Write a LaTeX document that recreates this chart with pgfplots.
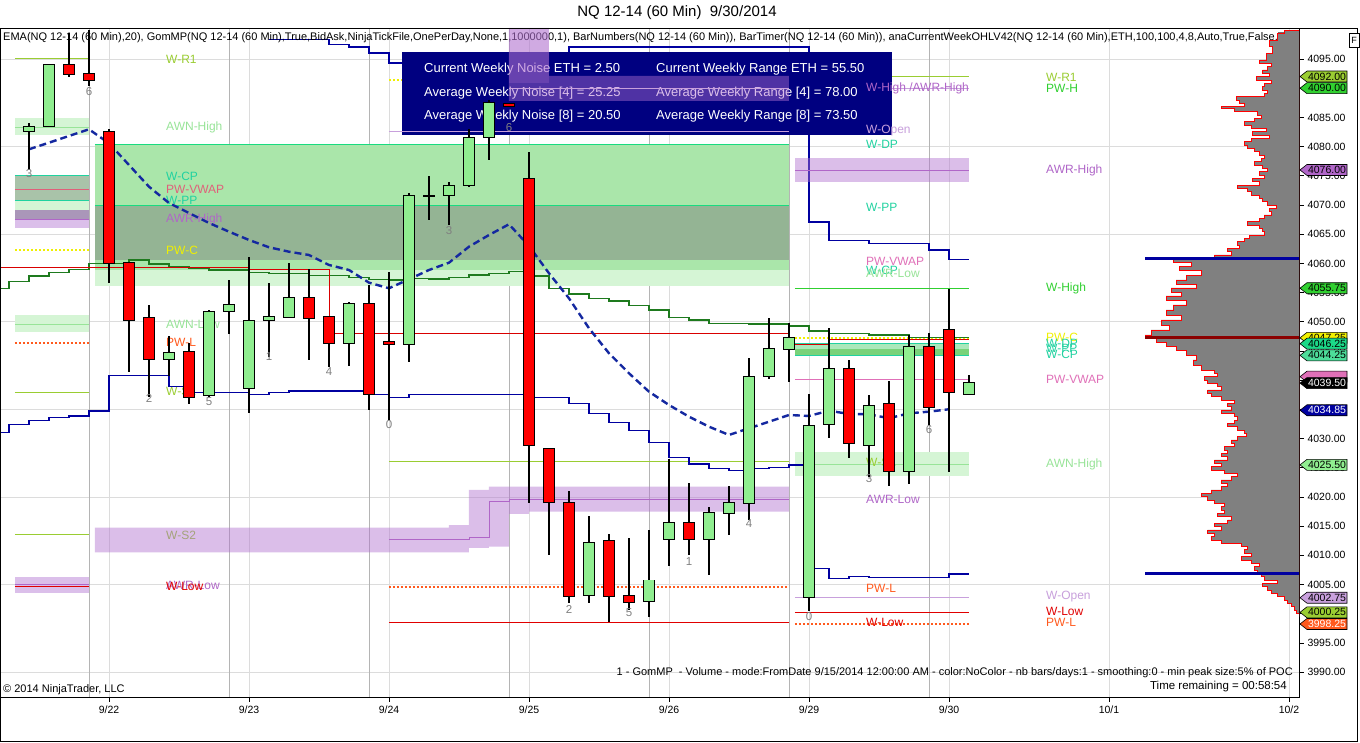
\documentclass[border=0pt]{standalone}
\usepackage{pgfplots}
\pgfplotsset{compat=1.18}
\usepackage{pgfplotstable}
\usepackage{fontspec}
\setmainfont{Liberation Sans}

\definecolor{cgreen}{HTML}{90EE90}
\definecolor{cred}{HTML}{FF0000}
\definecolor{ema}{HTML}{1428A0}
\definecolor{navyl}{HTML}{0000A0}
\definecolor{vwapg}{HTML}{1E7A1E}
\definecolor{ygreen}{HTML}{9ACD32}
\definecolor{lgreen}{HTML}{98E498}
\definecolor{tealg}{HTML}{20D2A0}
\definecolor{pinkr}{HTML}{E0607A}
\definecolor{pinkv}{HTML}{E070B8}
\definecolor{purp}{HTML}{B066C8}
\definecolor{yel}{HTML}{F0F000}
\definecolor{orng}{HTML}{FF5A1E}
\definecolor{wlow}{HTML}{E00000}
\definecolor{lpurp}{HTML}{C8A0DC}
\definecolor{limeg}{HTML}{30D030}
\definecolor{bandg}{HTML}{AAE6AA}
\definecolor{bandgray}{HTML}{94B494}
\definecolor{bandpale}{HTML}{D5F5D5}
\definecolor{gpurp}{HTML}{AA96B9}
\definecolor{purpov}{HTML}{B070D0}
\definecolor{gridd}{HTML}{B4B4B4}
\definecolor{gridl}{HTML}{DCDCDC}
\definecolor{boxnavy}{HTML}{000080}
\definecolor{profgray}{HTML}{808080}
\definecolor{poc}{HTML}{8B0000}
\definecolor{barnum}{HTML}{808080}

\pgfplotstableread{
k O H L C
0 4082.67 4084.10 4076.00 4083.40
1 4083.58 4094.10 4083.40 4093.97
7 4043.60 4047.60 4040.70 4044.60
9 4037.50 4052.00 4037.20 4051.70
10 4051.85 4057.20 4047.90 4052.80
11 4038.60 4061.05 4034.30 4050.20
12 4050.30 4056.60 4044.00 4050.80
13 4050.80 4060.10 4050.65 4054.00
16 4046.30 4053.40 4042.50 4053.00
19 4046.15 4072.00 4043.10 4071.50
20 4071.60 4075.00 4067.40 4071.60
21 4071.70 4074.00 4066.60 4073.25
22 4073.40 4083.00 4073.10 4081.40
23 4081.70 4088.00 4077.70 4087.40
28 4003.20 4016.75 4001.90 4012.20
31 4002.20 4014.35 3999.50 4005.70
32 4012.75 4026.50 4008.10 4015.50
34 4012.75 4018.30 4006.60 4017.20
35 4017.20 4021.90 4013.50 4018.90
36 4018.90 4043.75 4016.10 4040.60
37 4040.80 4050.60 4040.15 4045.30
38 4045.30 4049.80 4039.70 4047.30
39 4002.90 4037.60 4000.40 4032.20
40 4032.50 4048.90 4030.05 4041.90
42 4028.85 4037.50 4023.50 4035.60
44 4024.40 4047.70 4022.30 4045.60
47 4037.60 4040.90 4037.60 4039.50
}\upbars

\pgfplotstableread{
k O H L C
2 4094.00 4099.50 4091.90 4092.40
3 4092.40 4100.00 4090.30 4091.35
4 4082.50 4083.00 4056.60 4060.10
5 4060.10 4060.30 4041.45 4050.30
6 4050.60 4052.90 4037.20 4043.60
8 4044.80 4046.40 4035.90 4037.10
14 4054.00 4059.00 4043.50 4050.60
15 4050.80 4051.00 4042.30 4046.30
17 4053.00 4056.30 4034.90 4037.60
18 4046.50 4058.60 4033.20 4046.15
24 4087.30 4087.50 4086.80 4087.00
25 4074.40 4079.00 4018.90 4028.90
26 4028.30 4028.40 4010.10 4019.10
27 4018.90 4021.10 4001.80 4003.00
29 4012.50 4013.60 3998.65 4003.00
30 4003.00 4013.00 4000.65 4002.00
33 4015.50 4022.45 4010.10 4012.75
41 4042.00 4043.50 4026.60 4029.20
43 4035.90 4039.90 4021.90 4024.40
45 4045.60 4048.00 4032.30 4035.35
46 4048.60 4055.70 4024.30 4037.90
}\downbars

\newcommand\lblfont{\fontsize{12}{14}\selectfont}
\newcommand\band[5]{\addplot[draw=none,fill=#5,forget plot] coordinates {(#1,#3) (#2,#3) (#2,#4) (#1,#4)} -- cycle;}
\newcommand\lvl[4]{\addplot[#4,forget plot] coordinates {(#1,#3) (#2,#3)};}
\newcommand\lab[4]{\node[anchor=west,inner sep=0pt,text=#4,font=\lblfont] at (axis cs:#1,#2) {#3};}
\newcommand\bn[3]{\node[text=barnum,font=\fontsize{11.5}{13}\selectfont,inner sep=0pt] at (axis cs:#1,#2) {#3};}
\tikzset{dotl/.style={line width=2pt,dash pattern=on 2pt off 2pt}}
% candle: wick, then black body outline, then coloured body (vertical error bars, no marks)
\newcommand\candles[2]{%
\addplot[draw=none,mark=none,forget plot,error bars/.cd,y dir=both,y explicit,error mark=none,
  error bar style={draw=black,line width=1.1pt}]
  table[x=k,y expr={0.5*(\thisrow{H}+\thisrow{L})},y error expr={0.5*(\thisrow{H}-\thisrow{L})}] {#1};
\addplot[draw=none,mark=none,forget plot,error bars/.cd,y dir=both,y explicit,error mark=none,
  error bar style={draw=black,line width=12pt}]
  table[x=k,y expr={0.5*(\thisrow{O}+\thisrow{C})},y error expr={0.5*abs(\thisrow{O}-\thisrow{C})+0.17}] {#1};
\addplot[draw=none,mark=none,forget plot,error bars/.cd,y dir=both,y explicit,error mark=none,
  error bar style={draw=#2,line width=10pt}]
  table[x=k,y expr={0.5*(\thisrow{O}+\thisrow{C})},y error expr={0.5*abs(\thisrow{O}-\thisrow{C})}] {#1};
}
\newcommand\ptag[4]{%
  \pgfmathsetmacro\Y{(#1-3985.75)/114.56*669}
  \filldraw[fill=#2,draw=black,line width=0.6pt] (1300,\Y) -- (1307,\Y+5.5) -- (1347,\Y+5.5) -- (1347,\Y-5.5) -- (1307,\Y-5.5) -- cycle;
  \node[text=#3,font=\fontsize{10.5}{12}\selectfont,inner sep=0pt] at (1327,\Y) {#4};}

\begin{document}
\begin{tikzpicture}[x=1pt,y=1pt]
\useasboundingbox (0,-46) rectangle (1360,697);
\fill[white] (0,-46) rectangle (1360,697);
\node[font=\fontsize{15}{18}\selectfont] at (677,684) {NQ 12-14 (60 Min)\ \ 9/30/2014};

\begin{axis}[
  at={(0,0)}, anchor=south west, scale only axis,
  width=1299pt, height=669pt,
  xmin=-1.45, xmax=63.5, ymin=3985.75, ymax=4100.31,
  clip mode=individual,
  axis line style={black,line width=0.8pt},
  xtick={4,11,18,25,32,39,46,54,63},
  xticklabels={9/22,9/23,9/24,9/25,9/26,9/29,9/30,10/1,10/2},
  ytick={3990,3995,4000,4005,4010,4015,4020,4025,4030,4035,4040,4045,4050,4055,4060,4065,4070,4075,4080,4085,4090,4095},
  yticklabels={3990.00,3995.00,4000.00,4005.00,4010.00,4015.00,4020.00,4025.00,4030.00,4035.00,4040.00,4045.00,4050.00,4055.00,4060.00,4065.00,4070.00,4075.00,4080.00,4085.00,4090.00,4095.00},
  xtick pos=left, ytick pos=right, yticklabel pos=right,
  tick align=outside, major tick length=5pt,
  tick style={black,line width=0.6pt},
  tick label style={font=\fontsize{10.5}{12}\selectfont},
]
% grid
\pgfplotsinvokeforeach{3990,4005,4020,4035,4050,4065,4080,4095}{\addplot[gridl,line width=0.8pt,forget plot] coordinates {(-1.45,#1) (63.5,#1)};}
\pgfplotsinvokeforeach{4,11,18,25,32,39,46,54,63}{\addplot[gridl,line width=0.8pt,forget plot] coordinates {(#1,3985.75) (#1,4100.31)};}
\pgfplotsinvokeforeach{3,10,17,24,31,38,45}{\addplot[gridd,line width=0.8pt,forget plot] coordinates {(#1,3985.75) (#1,4100.31)};}

% left section levels (previous week)
\lvl{-0.7}{3}{4095.00}{ygreen,line width=1pt}
\band{-0.7}{3}{4084.95}{4082.00}{bandpale}
\lvl{-0.7}{3}{4083.36}{lgreen,line width=0.8pt}
\band{-0.7}{3}{4074.97}{4070.74}{bandgray!80}
\band{-0.7}{3}{4070.74}{4069.14}{bandpale}
\band{-0.7}{3}{4069.14}{4067.55}{gpurp}
\band{-0.7}{3}{4067.55}{4066.06}{purpov!45}
\lvl{-0.7}{3}{4074.97}{tealg,line width=1pt}
\lvl{-0.7}{3}{4070.74}{tealg,line width=1pt}
\lvl{-0.7}{3}{4072.74}{pinkr,line width=0.8pt}
\lvl{-0.7}{3}{4067.55}{purp,line width=0.8pt}
\lvl{-0.7}{3}{4062.29}{yel,dotl}
\band{-0.7}{3}{4051.16}{4048.20}{bandpale}
\lvl{-0.7}{3}{4049.57}{lgreen,line width=0.8pt}
\lvl{-0.7}{3}{4046.32}{orng,dotl}
\lvl{-0.7}{3}{4037.93}{ygreen,line width=1pt}
\lvl{-0.7}{3}{4013.61}{ygreen,line width=1pt}
\band{-0.7}{3}{4006.35}{4003.61}{purpov!45}
\lvl{-0.7}{3}{4004.95}{purp,line width=0.8pt}
\lvl{-0.7}{3}{4004.71}{wlow,line width=0.8pt}

% middle section bands
\band{3.3}{38}{4080.44}{4058.87}{bandg}
\band{3.3}{38}{4069.83}{4060.58}{bandgray}
\band{3.3}{38}{4058.87}{4056.13}{bandpale}
\lvl{3.3}{38}{4080.44}{tealg!80!green,line width=1pt}
\lvl{3.3}{38}{4069.83}{tealg!80!green,line width=1pt}
\lvl{18}{38}{4026.16}{ygreen,line width=1pt}
\lvl{18}{38}{4004.54}{orng,dotl}
\lvl{18}{38}{3998.54}{wlow,line width=1pt}
\lvl{18}{38}{4091.40}{yel,dotl}

% right section levels (current week)
\lvl{38.3}{47}{4092.00}{ygreen,line width=1pt}
\lvl{41.85}{47}{4090.00}{lpurp,line width=0.8pt}
\lvl{38.3}{47}{4055.75}{limeg,line width=1pt}
\lvl{38.3}{47}{4047.25}{yel,dotl}
\band{38.3}{47}{4046.25}{4045.34}{cgreen!80!teal!60}
\band{38.3}{47}{4045.34}{4044.14}{green!50!gray!70}
\lvl{38.3}{47}{4046.25}{tealg,line width=0.8pt}
\lvl{38.3}{47}{4044.25}{tealg,line width=0.8pt}
\lvl{38.3}{47}{4040.20}{pinkv,line width=0.8pt}
\band{38.3}{47}{4027.70}{4023.60}{bandpale}
\lvl{38.3}{47}{4025.50}{lgreen,line width=0.8pt}
\lvl{38.3}{47}{4002.75}{lpurp,line width=1pt}
\lvl{38.3}{47}{4000.25}{wlow,line width=1pt}
\lvl{38.3}{47}{3998.25}{orng,dotl}

% upper weekly projection line (mostly hidden by the info box)
\addplot[const plot,navyl,line width=1.2pt,forget plot] coordinates {
 (12,4098.30) (15,4097.50) (16,4097.05) (17,4096.03) (18,4094.30) (19,4093.10) (21,4092.40) (24,4091.10)
 (27,4097.05) (39,4067.09) (40,4063.96) (42,4063.37) (45,4062.30) (46,4060.70) (47,4060.70)};

% info box
\fill[boxnavy] (axis cs:18.65,4096.2) rectangle (axis cs:43.15,4081.99);
\begin{scope}[every node/.style={anchor=west,inner sep=0pt,text=white,font=\fontsize{13}{15}\selectfont}]
\node at (axis cs:19.75,4093.29) {Current Weekly Noise ETH = 2.50};
\node at (axis cs:31.35,4093.29) {Current Weekly Range ETH = 55.50};
\node at (axis cs:19.75,4089.18) {Average Weekly Noise [4] = 25.25};
\node at (axis cs:31.35,4089.18) {Average Weekly Range [4] = 78.00};
\node at (axis cs:19.75,4085.24) {Average Weekly Noise [8] = 20.50};
\node at (axis cs:31.35,4085.24) {Average Weekly Range [8] = 73.50};
\end{scope}

% labels for previous-week levels
\lab{6.85}{4095.00}{W-R1}{ygreen}
\lab{6.85}{4083.36}{AWN-High}{lgreen}
\lab{6.85}{4074.97}{W-CP}{tealg}
\lab{6.85}{4072.74}{PW-VWAP}{pinkr}
\lab{6.85}{4070.86}{W-PP}{tealg}
\lab{6.85}{4067.60}{AWR-High}{purp}
\lab{6.85}{4062.30}{PW-C}{yel}
\lab{6.85}{4049.60}{AWN-Low}{lgreen}
\lab{6.85}{4046.40}{PW-L}{orng}
\lab{6.85}{4038.00}{W-S1}{ygreen}
\lab{6.85}{4013.50}{W-S2}{ygreen}
\lab{6.85}{4004.80}{AWR-Low}{purp}
\lab{6.85}{4004.60}{W-Low}{wlow}
% labels for middle levels
\lab{41.85}{4090.00}{W-High /AWR-High}{purp}
\lab{41.85}{4082.67}{W-Open}{lpurp}
\lab{41.85}{4080.44}{W-DP}{tealg}
\lab{41.85}{4069.66}{W-PP}{tealg}
\lab{41.85}{4060.41}{PW-VWAP}{pinkv}
\lab{41.85}{4058.87}{W-CP}{tealg}
\lab{41.85}{4058.36}{AWR-Low}{lgreen}
\lab{41.85}{4026.00}{W-S1}{ygreen}
\lab{41.85}{4019.66}{AWR-Low}{purp}
\lab{41.85}{4004.40}{PW-L}{orng}
\lab{41.85}{3998.60}{W-Low}{wlow}
% labels for current-week levels
\lab{50.85}{4091.90}{W-R1}{ygreen}
\lab{50.85}{4090.00}{PW-H}{limeg}
\lab{50.85}{4076.00}{AWR-High}{purp}
\lab{50.85}{4055.80}{W-High}{limeg}
\lab{50.85}{4047.40}{PW-C}{yel}
\lab{50.85}{4046.30}{W-DP}{tealg}
\lab{50.85}{4045.50}{W-PP}{tealg}
\lab{50.85}{4044.50}{W-CP}{tealg}
\lab{50.85}{4040.20}{PW-VWAP}{pinkv}
\lab{50.85}{4025.65}{AWN-High}{lgreen}
\lab{50.85}{4003.00}{W-Open}{lpurp}
\lab{50.85}{4000.40}{W-Low}{wlow}
\lab{50.85}{3998.60}{PW-L}{orng}

% purple weekly-range bands (translucent)
\addplot[draw=none,fill=purpov,fill opacity=0.45,forget plot] coordinates {
 (3.3,4014.74) (21,4014.74) (21,4015.2) (22,4015.2) (22,4021.2) (23,4021.2) (23,4021.77) (38,4021.77)
 (38,4017.48) (25,4017.48) (25,4017.09) (24,4017.09) (24,4011.49) (23,4011.49) (23,4011.27) (22,4011.27)
 (22,4010.53) (3.3,4010.53)} -- cycle;
\addplot[const plot,purp,line width=0.8pt,forget plot] coordinates {(18,4012.76) (22,4013.10) (23,4019.20) (24,4019.60) (38,4019.60)};
\addplot[draw=none,fill=purpov,fill opacity=0.45,forget plot] coordinates {(38.3,4078.0) (47,4078.0) (47,4073.9) (38.3,4073.9)} -- cycle;
\lvl{38.3}{47}{4076.00}{purp,line width=0.8pt}

% step lines
\addplot[const plot,vwapg,line width=1.1pt,forget plot] coordinates {
 (-1.45,4055.74) (-1,4056.87) (0,4057.84) (1,4058.48) (2,4058.99) (3,4060.02) (5,4060.58) (6,4059.90)
 (7,4059.44) (8,4059.16) (9,4058.87) (11,4058.48) (12,4058.31) (14,4057.96) (16,4057.62) (17,4057.28)
 (18,4057.16) (19,4057.45) (20,4057.33) (21,4057.62) (22,4058.01) (23,4058.31) (24,4058.58) (25,4057.84)
 (26,4055.74) (27,4054.76) (28,4054.02) (29,4053.56) (30,4052.76) (31,4052.02) (32,4050.77) (33,4050.31)
 (34,4049.74) (36,4049.62) (38,4049.28) (39,4048.42) (40,4048.03) (42,4047.74) (44,4047.35) (47,4047.35)};
\addplot[const plot,red!85!black,line width=0.9pt,forget plot] coordinates {
 (-1.45,4059.33) (11,4058.99) (15,4048.03) (38,4046.20) (40,4047.00) (47,4047.00)};
\addplot[const plot,navyl,line width=1.2pt,forget plot] coordinates {
 (-1.45,4031.08) (-1,4032.45) (0,4033.06) (1,4033.65) (2,4033.87) (3,4034.73) (4,4040.84) (7,4038.89)
 (8,4037.93) (11,4037.59) (12,4037.86) (13,4038.15) (17,4037.59) (18,4037.07) (19,4037.55) (25,4037.07)
 (27,4036.04) (28,4034.33) (29,4032.79) (30,4031.35) (31,4029.30) (32,4026.80) (33,4025.65) (34,4024.92)
 (35,4024.57) (36,4024.92) (37,4025.02) (38,4025.48) (39,4007.79) (40,4006.08) (41,4006.42) (42,4006.25)
 (46,4006.80) (47,4006.80)};

% EMA(20)
\addplot[ema,line width=2.4pt,dash pattern=on 7pt off 4pt,forget plot] coordinates {
 (0,4079.54) (1,4080.67) (2,4081.82) (3,4082.96) (4,4080.57) (5,4076.85) (6,4073.13) (7,4070.34)
 (8,4068.63) (9,4066.92) (10,4065.43) (11,4064.01) (12,4062.76) (13,4062.00) (14,4061.44) (15,4059.73)
 (16,4058.87) (17,4056.70) (18,4055.74) (19,4057.28) (20,4058.87) (21,4060.12) (22,4062.86) (23,4064.86)
 (24,4066.70) (25,4062.98) (26,4058.31) (27,4054.02) (28,4048.89) (29,4044.61) (30,4041.18) (31,4038.03)
 (32,4035.75) (33,4033.75) (34,4032.04) (35,4030.62) (36,4031.76) (37,4032.89) (38,4034.04) (39,4033.87)
 (40,4034.78) (41,4034.21) (42,4034.16) (43,4033.48) (44,4034.33) (45,4034.61) (46,4035.02)};

% indicator line
\node[anchor=west,inner sep=0pt,font=\fontsize{11}{13}\selectfont] at (axis cs:-1.3,4098.6)
 {EMA(NQ 12-14 (60 Min),20), GomMP(NQ 12-14 (60 Min),True,BidAsk,NinjaTickFile,OnePerDay,None,1,1000000,1), BarNumbers(NQ 12-14 (60 Min)), BarTimer(NQ 12-14 (60 Min)), anaCurrentWeekOHLV42(NQ 12-14 (60 Min),ETH,100,100,4,8,Auto,True,False,Tr};

% lines and translucent band over the box
\lvl{18}{38}{4082.55}{lpurp,line width=0.8pt}
\addplot[draw=none,fill=purpov,fill opacity=0.45,forget plot] coordinates {(24,4100.31) (26,4100.31) (26,4092.09) (38,4092.09) (38,4087.81) (24,4087.81)} -- cycle;
\addplot[draw=none,fill=purpov,fill opacity=0.25,forget plot] coordinates {(24,4100.31) (26,4100.31) (26,4090.89) (24,4090.89)} -- cycle;
\lvl{24}{38}{4089.98}{lpurp,line width=0.8pt}

% candles
\candles{\upbars}{cgreen}
\candles{\downbars}{cred}

% bar numbers
\bn{0}{4075.3}{3}
\bn{3}{4089.35}{6}
\bn{6}{4036.95}{2}
\bn{9}{4036.27}{5}
\bn{12}{4043.97}{1}
\bn{15}{4041.4}{4}
\bn{18}{4032.33}{0}
\bn{21}{4065.7}{3}
\bn{24}{4083.2}{6}
\bn{27}{4000.8}{2}
\bn{30}{4000.14}{5}
\bn{33}{4009.0}{1}
\bn{36}{4015.4}{4}
\bn{39}{3999.6}{0}
\bn{42}{4023.1}{3}
\bn{45}{4031.5}{6}
\end{axis}

% volume profile (width in pixels from the right edge)
\begin{axis}[
  at={(0,0)}, anchor=south west, scale only axis,
  width=1299pt, height=669pt,
  xmin=0, xmax=1299, x dir=reverse, ymin=3985.75, ymax=4100.31,
  hide axis]
\addplot[const plot,fill=profgray,draw=red,line width=0.9pt] coordinates {
 (0,4099.90) (14.7,4099.40) (21.3,4098.25) (29.7,4097.11) (26.3,4095.98) (33,4094.83) (39.7,4094.26) (28,4093.68)
 (31.3,4093.12) (36.3,4092.55) (29.7,4091.97) (43,4091.40) (28,4090.84) (34.7,4090.26) (36.3,4089.69) (31.3,4089.13)
 (34.7,4088.54) (63,4087.98) (59.7,4087.41) (54.7,4086.83) (78,4086.56) (64.7,4085.98) (41.3,4085.41) (38,4084.85)
 (44.7,4084.26) (54.7,4083.70) (48,4083.13) (33,4082.55) (46.3,4081.99) (29.7,4081.42) (48,4080.84) (54.7,4080.27)
 (51.3,4079.70) (44.7,4079.12) (39.7,4078.56) (34.7,4077.99) (38,4077.41) (44.7,4076.85) (36.3,4076.28) (31.3,4075.70)
 (39.7,4075.14) (34.7,4074.57) (46.3,4073.99) (39.7,4073.42) (61.3,4072.86) (51.3,4072.28) (48,4071.71) (39.7,4071.15)
 (36.3,4070.57) (31.3,4070.00) (23,4069.43) (29.7,4068.85) (28,4068.29) (34.7,4067.72) (39.7,4067.14) (51.3,4066.58)
 (39.7,4066.01) (36.3,4065.43) (34.7,4064.86) (49.7,4064.30) (54.7,4063.72) (61.3,4063.15) (59.7,4062.59) (71.3,4062.00)
 (68,4061.44) (84.7,4060.87) (126,4060.24) (108,4059.55) (120,4058.87) (98,4058.01) (113,4057.16) (123,4056.47)
 (103,4055.79) (128,4055.10) (118,4054.42) (133,4053.73) (113,4052.88) (126,4052.02) (133,4051.16) (118,4050.31)
 (138,4049.45) (130,4048.60) (148,4047.74) (154,4047.23) (143,4046.54) (133,4045.86) (123,4045.17) (113,4044.32)
 (103,4043.46) (106,4042.60) (98,4041.75) (84.7,4041.18) (81.3,4040.60) (94.7,4040.03) (91.3,4039.47) (81.3,4038.89)
 (78,4038.32) (91.3,4037.76) (88,4037.17) (78,4036.61) (64.7,4036.04) (71.3,4035.46) (68,4034.90) (78,4034.33)
 (64.7,4033.75) (61.3,4033.18) (64.7,4032.62) (71.3,4032.04) (61.3,4031.47) (54.7,4030.91) (53,4030.33) (61.3,4029.76)
 (68,4029.20) (64.7,4028.61) (74.7,4028.05) (71.3,4027.48) (78,4026.90) (71.3,4026.34) (84.7,4025.77) (78,4025.19)
 (88,4024.62) (74.7,4024.06) (61.3,4023.48) (68,4022.91) (78,4022.35) (71.3,4021.77) (78,4021.20) (88,4020.63)
 (98,4020.05) (91.3,4019.49) (84.7,4018.92) (74.7,4018.34) (78,4017.77) (74.7,4017.21) (81.3,4016.63) (68,4016.06)
 (71.3,4015.50) (84.7,4014.92) (78,4014.35) (91.3,4013.78) (84.7,4013.20) (88,4012.64) (78,4012.07) (58,4011.49)
 (51.3,4010.93) (54.7,4010.36) (48,4009.78) (58,4009.21) (48,4008.65) (39.7,4008.07) (44.7,4007.50) (41.3,4006.94)
 (38,4006.35) (34.7,4005.79) (21.3,4005.22) (36.3,4004.64) (31.3,4004.08) (28,4003.51) (21.3,4002.93) (14.7,4002.36)
 (11.3,4001.80) (8,4001.22) (4.7,4000.65) (3,4000.08) (0,3999.51)} -- cycle;
\addplot[navyl,line width=3pt] coordinates {(0,4060.87) (154,4060.87)};
\addplot[navyl,line width=3pt] coordinates {(0,4006.94) (154,4006.94)};
\addplot[poc,line width=3pt] coordinates {(0,4047.23) (154,4047.23)};
\end{axis}

% price tags on the right axis
\ptag{4092.00}{ygreen}{black}{4092.00}
\ptag{4090.00}{limeg}{black}{4090.00}
\ptag{4076.00}{purp}{black}{4076.00}
\ptag{4055.75}{limeg}{black}{4055.75}
\ptag{4047.25}{yel}{black}{4047.25}
\ptag{4046.25}{tealg!85!green}{black}{4046.25}
\ptag{4044.25}{tealg!60!cgreen}{black}{4044.25}
\ptag{4040.60}{pinkv}{black}{}
\ptag{4039.50}{black}{white}{4039.50}
\ptag{4034.85}{navyl}{white}{4034.85}
\ptag{4025.50}{cgreen}{black}{4025.50}
\ptag{4002.75}{lpurp}{black}{4002.75}
\ptag{4000.25}{ygreen}{black}{4000.25}
\ptag{3998.25}{orng}{white}{3998.25}

% footer texts and frame
\node[anchor=west,inner sep=0pt,font=\fontsize{11}{13}\selectfont] at (3,7) {\textcopyright\ 2014 NinjaTrader, LLC};
\node[anchor=east,inner sep=0pt,font=\fontsize{11}{13}\selectfont] at (1293,24) {1 - GomMP\ \ - Volume - mode:FromDate 9/15/2014 12:00:00 AM - color:NoColor - nb bars/days:1 - smoothing:0 - min peak size:5\% of POC};
\node[anchor=east,inner sep=0pt,font=\fontsize{11.5}{13}\selectfont] at (1287,10) {Time remaining = 00:58:54};
\draw[black,line width=0.8pt] (0.4,-44.5) rectangle (1357,669);
\draw[black,line width=0.6pt,fill=white] (1349,650) rectangle (1359,664);
\node[font=\fontsize{9}{10}\selectfont,inner sep=0pt] at (1354,657) {F};
\end{tikzpicture}
\end{document}
